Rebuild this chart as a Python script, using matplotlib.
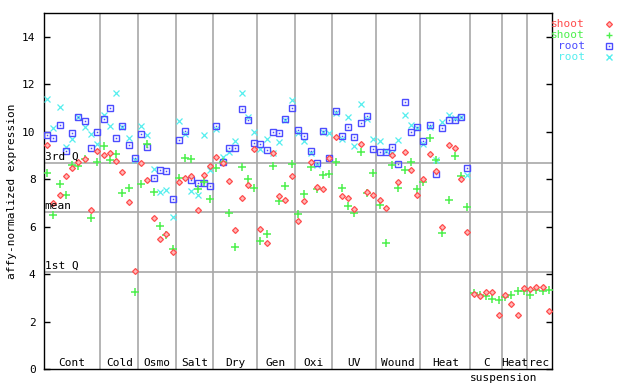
"""
Expression of one probe set across stress treatments, shoot and root replicates
"""

import numpy as np
import matplotlib
matplotlib.use("Agg")
from matplotlib import pyplot as plt

# treatment groups along the x axis and how many samples each has
groups = ["Cont", "Cold", "Osmo", "Salt", "Dry", "Gen", "Oxi", "UV", "Wound", "Heat", "C", "Heat", "rec"]
group_sizes = [9, 6, 6, 6, 7, 6, 6, 7, 7, 8, 5, 4, 4]

# shoot replicate 1 (red)
shoot_1 = [9.44, 7.01, 7.33, 8.15, 8.47, 8.71, 8.86, 6.70, 9.19,
           9.02, 9.10, 8.77, 8.30, 7.04, 4.12,
           8.68, 7.96, 6.36, 5.47, 5.67, 4.92,
           7.87, 8.05, 8.15, 6.70, 8.19, 8.57,
           8.95, 8.68, 7.92, 5.85, 7.20, 7.75, 9.27,
           5.90, 5.30, 9.10, 7.29, 7.12, 8.13,
           6.23, 7.08, 8.72, 7.67, 7.58, 8.89,
           9.78, 7.29, 7.20, 6.74, 9.48, 7.46, 7.33,
           7.12, 6.78, 9.02, 7.88, 9.15, 8.39, 7.33,
           8.01, 9.06, 8.34, 5.98, 9.44, 9.31, 8.01, 5.77,
           3.15, 3.07, 3.24, 3.24, 2.27,
           3.11, 2.73, 2.27, 3.40,
           3.36, 3.45, 3.45, 2.43]
# shoot replicate 2 (green)
shoot_2 = [8.26, 6.49, 7.80, 7.33, 8.58, 8.55, 8.85, 6.36, 8.71,
           9.40, 8.81, 9.06, 7.42, 7.63, 3.24,
           7.81, 9.48, 7.46, 6.02, 5.63, 5.05,
           8.05, 8.91, 8.85, 7.58, 7.87, 7.16,
           8.47, 8.72, 6.59, 5.14, 8.51, 8.01, 7.63,
           5.39, 5.69, 8.57, 7.08, 7.71, 8.64,
           6.53, 7.37, 8.51, 7.58, 8.17, 8.22,
           8.72, 7.63, 6.87, 6.57, 9.15, 7.42, 8.26,
           6.91, 5.30, 8.60, 7.63, 8.39, 8.72, 7.58,
           7.88, 9.74, 8.81, 5.73, 7.12, 8.98, 8.13, 6.82,
           3.20, 3.11, 3.07, 2.94, 2.90,
           3.03, 3.11, 3.28, 3.28,
           3.11, 3.32, 3.28, 3.32]
# root replicate 1 (blue) - no root samples for the cell suspension part
root_1 = [9.86, 9.75, 10.29, 9.19, 9.95, 10.62, 10.43, 9.31, 10.00,
          10.54, 11.00, 9.74, 10.23, 9.44, 8.89,
          9.91, 9.37, 8.05, 8.39, 8.34, 7.16,
          9.65, 10.03, 7.96, 7.84, 7.84, 7.71,
          10.24, 8.72, 9.31, 9.31, 10.96, 10.50, 9.53,
          9.48, 9.23, 9.99, 9.95, 10.52, 11.00,
          10.08, 9.82, 9.19, 8.68, 10.03, 8.89,
          10.88, 9.82, 10.20, 9.78, 10.37, 10.67, 9.27,
          9.15, 9.15, 9.36, 8.64, 11.26, 9.99, 10.20,
          9.61, 10.29, 8.22, 10.16, 10.50, 10.50, 10.62, 8.47]
# root replicate 2 (cyan)
root_2 = [11.36, 10.16, 11.05, 9.34, 9.67, 10.60, 10.20, 9.91, 9.48,
          10.72, 10.24, 11.65, 10.20, 9.75, 8.80,
          10.24, 9.86, 8.43, 7.46, 7.54, 6.40,
          10.45, 9.91, 7.50, 7.33, 9.86, 8.39,
          10.12, 8.93, 9.15, 9.61, 11.65, 10.62, 9.99,
          9.27, 9.70, 9.10, 9.57, 10.50, 11.34,
          9.95, 9.61, 9.10, 8.60, 10.00, 9.95,
          10.79, 9.70, 10.62, 9.40, 11.17, 10.54, 9.70,
          9.61, 9.19, 9.10, 9.65, 10.71, 10.29, 10.16,
          9.48, 10.20, 8.81, 10.41, 10.71, 10.58, 10.60, 8.17]

# summary lines drawn across the chart
stat_names = ["3rd Q", "mean", "1st Q"]
stat_values = [8.68, 6.61, 4.08]

red = "#ff4c4c"
green = "#4cf04c"
blue = "#4c4cff"
cyan = "#55eeee"
grey = "#a8a8a8"
font = "DejaVu Sans Mono"
plt.rcParams["font.family"] = font
plt.rcParams["font.size"] = 8

n = sum(group_sizes)
bounds = np.cumsum(group_sizes)

fig = plt.figure(figsize=(6.4, 3.84), dpi=100)
ax = fig.add_axes([44 / 640, 15 / 384, 508 / 640, 356 / 384])

# group separators and summary lines
for b in bounds[:-1]:
    ax.axvline(b - 0.5, color=grey, lw=1.2, zorder=1)
for name, v in zip(stat_names, stat_values):
    ax.axhline(v, color=grey, lw=1.2, zorder=1)
    ax.text(-0.4, v + 0.05, name, ha="left", va="bottom", fontsize=8, zorder=5)

x_shoot = np.arange(len(shoot_1))
x_root = np.arange(len(root_1))
ax.plot(x_root, root_2, ls="none", marker="x", ms=4.3, mew=0.9, color=cyan, zorder=3)
ax.plot(x_root, root_1, ls="none", marker="s", ms=4.4, mew=1.0, mfc="none", mec=blue, zorder=3)
ax.plot(x_root, root_1, ls="none", marker="s", ms=1.1, mew=0, color=blue, zorder=3)
ax.plot(x_shoot, shoot_2, ls="none", marker="+", ms=5.2, mew=1.1, color=green, zorder=4)
ax.plot(x_shoot, shoot_1, ls="none", marker="D", ms=3.0, mew=0.9, mfc="#ffb8b8", mec=red, zorder=4)

# group names along the bottom
starts = np.concatenate([[0], bounds[:-1]])
for name, s, b in zip(groups, starts, bounds):
    ax.text((s + b - 1) / 2, 0.06, name, ha="center", va="bottom", fontsize=8)
ax.text(starts[10] - 0.6, -0.4, "suspension", ha="left", va="center", fontsize=8, clip_on=False)

ax.set_xlim(-0.5, n - 0.5)
ax.set_ylim(0, 15)
ax.set_xticks([])
ax.set_yticks(np.arange(0, 15, 2))
ax.tick_params(axis="y", direction="in", length=4.3, width=1, pad=6, right=True, labelsize=8)
for sp in ax.spines.values():
    sp.set_linewidth(1)

fig.text(12 / 640, 1 - 191 / 384, "affy-normalized expression", rotation=90,
         ha="center", va="center", fontsize=8)

# legend outside the plot on the right
legend = [("shoot", red, "D"), ("shoot", green, "+"), ("root", blue, "s"), ("root", cyan, "x")]
for k, (label, col, mk) in enumerate(legend):
    yy = 1 - (24 + 11 * k) / 384
    fig.text(585 / 640, yy, label, color=col, ha="right", va="center", fontsize=8)
    if mk == "D":
        ax.plot([609 / 640], [yy], marker=mk, ms=3.0, mew=0.9, mfc="#ffb8b8", mec=col,
                transform=fig.transFigure, clip_on=False)
    elif mk == "s":
        ax.plot([609 / 640], [yy], marker=mk, ms=4.4, mew=1.0, mfc="none", mec=col,
                transform=fig.transFigure, clip_on=False)
        ax.plot([609 / 640], [yy], marker=mk, ms=1.1, mew=0, color=col,
                transform=fig.transFigure, clip_on=False)
    else:
        ax.plot([609 / 640], [yy], marker=mk, ms=5, mew=1.0, color=col,
                transform=fig.transFigure, clip_on=False)

fig.savefig("out.png", dpi=100)
